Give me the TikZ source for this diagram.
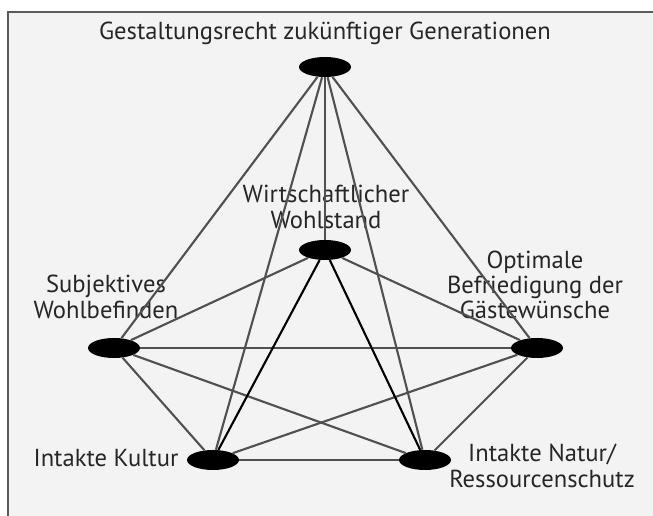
\documentclass[tikz,border=0pt]{standalone}
\usepackage{fontspec}
\setmainfont{PT Sans}
\usetikzlibrary{shapes.geometric}
\definecolor{sfondo}{HTML}{F3F3F3}
\definecolor{bordo}{HTML}{5A5A5A}
\definecolor{lineagrigia}{HTML}{505050}
\begin{document}
\begin{tikzpicture}
    % Stili per i nodi
    \tikzstyle{punto}=[ellipse, fill=black, inner sep=0pt, minimum width=1.3cm, minimum height=0.5cm]
    \tikzstyle{etichetta}=[align=center, font=\fontsize{17.5}{18}\selectfont, inner sep=0pt, text=black!85]
    \tikzstyle{linea}=[line width=1.5pt, lineagrigia]
    \tikzstyle{lineaforte}=[line width=1.5pt, black]
    % Sfondo e cornice
    \useasboundingbox (0,0) rectangle (16.325,12.9);
    \fill[white] (0,0) rectangle (16.325,12.9);
    \fill[sfondo] (0.2,0) rectangle (16.325,12.6);
    \draw[bordo, line width=1.5pt] (0.2,0) -- (0.2,12.6) -- (16.325,12.6);
    % Nodi
    \node[punto] (gen) at (8.125,11.225) {};
    \node[punto] (wohl) at (8.125,6.65) {};
    \node[punto] (subj) at (2.85,4.2) {};
    \node[punto] (gast) at (13.425,4.2) {};
    \node[punto] (kult) at (5.325,1.4) {};
    \node[punto] (natur) at (10.625,1.4) {};
    % Etichette
    \node[etichetta] (tgen) at (8.125,12.075) {Gestaltungsrecht zukünftiger Generationen};
    \node[etichetta] (twohl) at (8.15,7.725) {Wirtschaftlicher\\Wohlstand};
    \node[etichetta] (tsubj) at (2.65,5.475) {Subjektives\\Wohlbefinden};
    \node[etichetta] (tgast) at (13.375,5.775) {Optimale\\Befriedigung der\\Gästewünsche};
    \node[etichetta] (tkult) at (2.65,1.45) {Intakte Kultur};
    \node[etichetta] (tnatur) at (13.55,1.25) {Intakte Natur/\\Ressourcenschutz};
    % Collegamenti
    \foreach \a/\b in {gen/wohl, gen/subj, gen/gast, gen/kult, gen/natur,
                       wohl/subj, wohl/gast, subj/gast, subj/kult, subj/natur,
                       gast/kult, gast/natur, kult/natur}
        \draw[linea] (\a) -- (\b);
    \draw[lineaforte] (wohl) -- (kult);
    \draw[lineaforte] (wohl) -- (natur);
\end{tikzpicture}
\end{document}
